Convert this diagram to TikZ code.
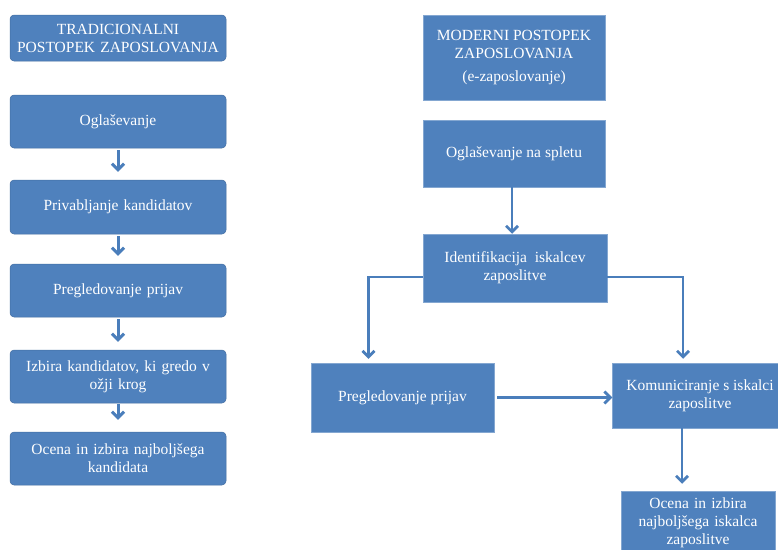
\documentclass[tikz,border=0pt]{standalone}
\usepackage{fontspec}
\setmainfont{Liberation Serif}
\usetikzlibrary{arrows.meta}
\definecolor{boxblue}{HTML}{4F81BD}
\definecolor{linkblue}{HTML}{4A7EBB}
\begin{document}
\begin{tikzpicture}[x=1pt,y=-1pt,
        card/.style={fill=boxblue, draw=boxblue!85!black, line width=0.5pt, text=white, align=center,
            font=\fontsize{15.5}{18}\selectfont, inner sep=2pt},
        lcard/.style={card, rounded corners=4pt, minimum width=216pt, text width=205pt},
        rcard/.style={card, draw=boxblue!70!white},
        link/.style={draw=linkblue, line width=2.8pt, -{Straight Barb[length=6pt,width=12pt]}}]
        \useasboundingbox (0,0) rectangle (778,549);
        \node[lcard, minimum height=46pt] (trad) at (118,38) {TRADICIONALNI\\POSTOPEK ZAPOSLOVANJA};
        \node[lcard, minimum height=53pt] (lads) at (118,121.5) {Oglaševanje};
        \node[lcard, minimum height=54pt] (lattr) at (118,207) {Privabljanje kandidatov};
        \node[lcard, minimum height=53pt] (lrev) at (118,290.5) {Pregledovanje prijav};
        \node[lcard, minimum height=53pt] (lsel) at (118,376.5) {Izbira kandidatov, ki gredo v\\ožji krog};
        \node[lcard, minimum height=53pt] (lbest) at (118,458.5) {Ocena in izbira najboljšega\\kandidata};
        \draw[link, line width=3pt, shorten <=2pt, shorten >=8pt] (lads.south) -- (lattr.north);
        \draw[link, line width=3pt, shorten <=2pt, shorten >=8pt] (lattr.south) -- (lrev.north);
        \draw[link, line width=3pt, shorten <=2pt, shorten >=8pt] (lrev.south) -- (lsel.north);
        \draw[link, line width=3pt, shorten <=1pt, shorten >=12pt] (lsel.south) -- (lbest.north);
        \node[rcard, minimum width=182pt, minimum height=85pt] (mod) at (514,57.5)
            {MODERNI POSTOPEK\\ZAPOSLOVANJA\\[5pt](e-zaposlovanje)};
        \node[rcard, minimum width=182pt, minimum height=67pt] (rads) at (514,153.5) {Oglaševanje na spletu};
        \node[rcard, minimum width=184pt, minimum height=68pt] (ident) at (515,268) {Identifikacija\ \ iskalcev\\zaposlitve};
        \node[rcard, minimum width=183pt, minimum height=69pt] (rrev) at (402.5,397.5) {Pregledovanje prijav};
        \node[rcard, minimum width=175pt, minimum height=65pt] (comm) at (700,395.5) {Komuniciranje s iskalci\\zaposlitve};
        \node[rcard, minimum width=154pt, minimum height=64pt, text width=150pt] (rbest) at (698,523)
            {Ocena in izbira\\najboljšega iskalca\\zaposlitve};
        \draw[link] ([xshift=-2pt]rads.south) -- ([xshift=-3pt]ident.north);
        \draw[link, shorten >=4pt] ([yshift=-9pt]ident.west) -| ([xshift=-34pt]rrev.north);
        \draw[link, shorten >=4pt] ([yshift=-9pt]ident.east) -| ([xshift=-17pt]comm.north);
        \draw[link, shorten <=3pt] (rrev.east) -- (comm.west |- rrev.east);
        \draw[link, shorten >=7pt] ([xshift=-18pt]comm.south) -- ([xshift=-16pt]rbest.north);
    \end{tikzpicture}
\end{document}
